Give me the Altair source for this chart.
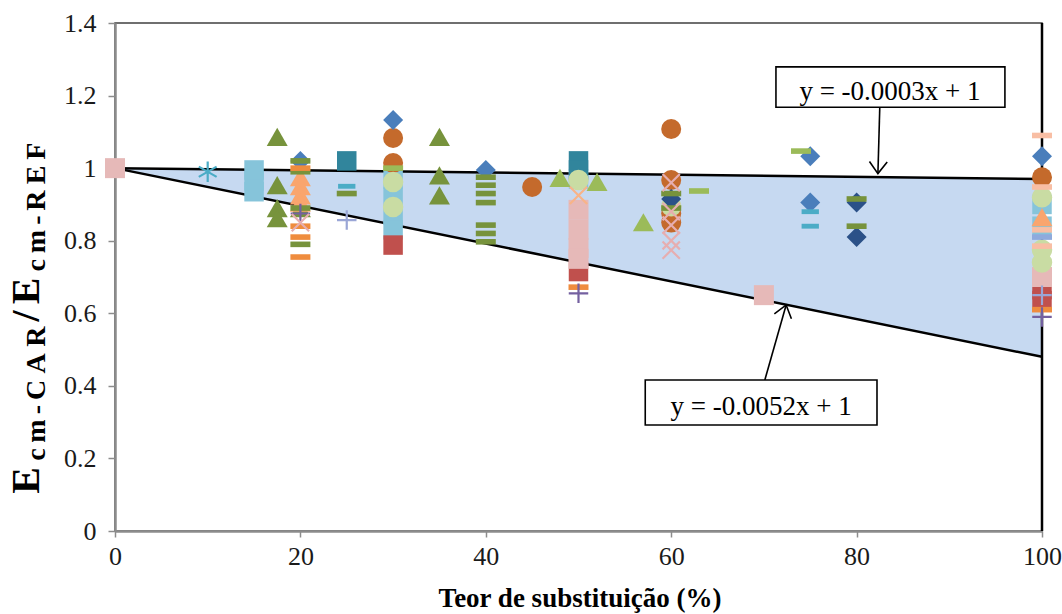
import altair as alt
import pandas as pd

# ---------------- data ----------------
x_ticks = [0, 20, 40, 60, 80, 100]
y_ticks = [0, 0.2, 0.4, 0.6, 0.8, 1, 1.2, 1.4]

# regression envelope (from the equations shown on the chart)
slope_upper = -0.0003
slope_lower = -0.0052
intercept = 1
env_x = [0, 100]

eq_labels = ["y = -0.0003x + 1", "y = -0.0052x + 1"]
box_x1 = [71.3, 57.2]
box_x2 = [96.0, 82.2]
box_y1 = [1.279, 0.416]
box_y2 = [1.168, 0.292]
label_x = [83.6, 69.7]
label_y = [1.21, 0.343]
arrow_x1 = [82.5, 70.1]
arrow_y1 = [1.168, 0.416]
arrow_x2 = [82.3, 72.4]
arrow_y2 = [0.985, 0.623]

# marker series (x = substitution %, y = ratio)
lblue_sq_x = [15, 15, 15, 30, 30, 30, 30, 50, 100, 100]
lblue_sq_y = [0.935, 0.965, 0.995, 0.97, 0.92, 0.87, 0.83, 0.97, 0.90, 0.84]
teal_sq_x = [25, 50, 50]
teal_sq_y = [1.02, 1.02, 0.995]
red_sq_x = [30, 50, 100, 100]
red_sq_y = [0.788, 0.715, 0.665, 0.635]
pink_sq_x = [0, 50, 50, 50, 50, 70, 100]
pink_sq_y = [1.0, 0.885, 0.83, 0.78, 0.75, 0.65, 0.70]
brown_ci_x = [30, 30, 45, 60, 60, 60, 60, 100]
brown_ci_y = [1.083, 1.014, 0.948, 1.108, 0.967, 0.875, 0.85, 0.975]
lgreen_ci_x = [30, 30, 50, 60, 100, 100, 100]
lgreen_ci_y = [0.962, 0.893, 0.967, 0.895, 0.92, 0.775, 0.74]
green_tri_x = [17.5, 17.5, 17.5, 17.5, 35, 35, 35, 20]
green_tri_y = [1.086, 0.953, 0.89, 0.862, 1.086, 0.98, 0.925, 0.89]
lgreen_tri_x = [48, 52, 57]
lgreen_tri_y = [0.973, 0.962, 0.851]
orange_tri_x = [20, 20, 20, 20, 100]
orange_tri_y = [0.975, 0.95, 0.925, 0.905, 0.865]
blue_dia_x = [20, 30, 40, 75, 75, 100]
blue_dia_y = [1.02, 1.133, 0.995, 1.033, 0.905, 1.033]
navy_dia_x = [60, 80, 80]
navy_dia_y = [0.915, 0.905, 0.81]
green_dash_x = [20, 20, 20, 20, 25, 40, 40, 40, 40, 40, 40, 40, 60, 60, 80, 80]
green_dash_y = [1.02, 0.99, 0.89, 0.79, 0.93, 0.975, 0.953, 0.93, 0.905, 0.843, 0.82, 0.797, 0.93, 0.89, 0.915, 0.84]
lgreen_dash_x = [63, 74, 30]
lgreen_dash_y = [0.937, 1.047, 1.0]
teal_dash_x = [25, 75, 75]
teal_dash_y = [0.95, 0.88, 0.84]
orange_dash_x = [20, 20, 20, 20, 50, 100]
orange_dash_y = [1.0, 0.84, 0.81, 0.755, 0.672, 0.61]
peach_dash_x = [100, 100, 100, 100]
peach_dash_y = [1.09, 0.948, 0.83, 0.785]
lav_dash_x = [100]
lav_dash_y = [0.81]
purple_plus_x = [20, 50, 100]
purple_plus_y = [0.875, 0.655, 0.59]
lpurple_plus_x = [25, 100]
lpurple_plus_y = [0.857, 0.65]
pink_x_x = [20, 60, 60, 60, 60, 60]
pink_x_y = [0.85, 0.96, 0.88, 0.843, 0.80, 0.774]
orange_x_x = [50]
orange_x_y = [0.925]
cyan_ast_x = [10]
cyan_ast_y = [0.99]

x_title = "Teor de substituição (%)"
y_title_parts = [("E", False), ("cm-CAR", True), ("/E", False), ("cm-REF", True)]

# ---------------- styling ----------------
FONT = "Liberation Serif, Times New Roman, serif"
DASH = "M-1,-0.28H1V0.28H-1Z"
PLUS = "M-1,0H1M0,-1V1"
XMARK = "M-1,-1L1,1M-1,1L1,-1"
AST = "M0,-1V1M-0.87,-0.5L0.87,0.5M-0.87,0.5L0.87,-0.5"

series = [
    (lblue_sq_x, lblue_sq_y, "square", "#86c4da", 380, True),
    (teal_sq_x, teal_sq_y, "square", "#31859c", 380, True),
    (red_sq_x, red_sq_y, "square", "#c0504d", 380, True),
    (pink_sq_x, pink_sq_y, "square", "#e6b9b8", 400, True),
    (brown_ci_x, brown_ci_y, "circle", "#c46a2c", 400, True),
    (lgreen_ci_x, lgreen_ci_y, "circle", "#c9dca3", 420, True),
    (green_tri_x, green_tri_y, "triangle-up", "#77933c", 440, True),
    (lgreen_tri_x, lgreen_tri_y, "triangle-up", "#9bbb59", 440, True),
    (orange_tri_x, orange_tri_y, "triangle-up", "#f9a56e", 440, True),
    (blue_dia_x, blue_dia_y, "diamond", "#4a7ebb", 400, True),
    (navy_dia_x, navy_dia_y, "diamond", "#2b5188", 400, True),
    (green_dash_x, green_dash_y, DASH, "#77933c", 400, True),
    (lgreen_dash_x, lgreen_dash_y, DASH, "#9bbb59", 400, True),
    (teal_dash_x, teal_dash_y, DASH, "#4bacc6", 300, True),
    (orange_dash_x, orange_dash_y, DASH, "#ef8c3e", 400, True),
    (peach_dash_x, peach_dash_y, DASH, "#f8bea4", 400, True),
    (lav_dash_x, lav_dash_y, DASH, "#8faadc", 400, True),
    (purple_plus_x, purple_plus_y, PLUS, "#7460a0", 380, False),
    (lpurple_plus_x, lpurple_plus_y, PLUS, "#9aa6d6", 380, False),
    (pink_x_x, pink_x_y, XMARK, "#e6aeb0", 300, False),
    (orange_x_x, orange_x_y, XMARK, "#f8b488", 300, False),
    (cyan_ast_x, cyan_ast_y, AST, "#4bacc6", 420, False),
]

xs = alt.Scale(domain=[0, 100], nice=False, zero=False)
ys = alt.Scale(domain=[0, 1.4], nice=False, zero=False)
xaxis = alt.Axis(values=x_ticks, title=None, grid=False, labelFont=FONT, labelFontSize=26,
                 labelColor="#1a1a1a", domainColor="#8c8c8c", domainWidth=2.5,
                 tickColor="#8c8c8c", tickSize=6, tickWidth=1.5, labelPadding=6,
                 labelFlush=False)
yaxis = alt.Axis(values=y_ticks, title=None, grid=False, labelFont=FONT, labelFontSize=26,
                 labelColor="#1a1a1a", domainColor="#8c8c8c", domainWidth=2.5,
                 tickColor="#8c8c8c", tickSize=7, tickWidth=1.5, labelPadding=12,
                 labelExpr="datum.value == 0 ? '0' : (datum.value == 1 ? '1' : format(datum.value, '.1f'))")


def X(f):
    return alt.X(f, type="quantitative", scale=xs, axis=xaxis)


def Y(f):
    return alt.Y(f, type="quantitative", scale=ys, axis=yaxis)


env = pd.DataFrame({
    "x": env_x,
    "upper": [intercept + slope_upper * v for v in env_x],
    "lower": [intercept + slope_lower * v for v in env_x],
})

band = alt.Chart(env).mark_area(color="#c6d9f1", opacity=1).encode(x=X("x"), y=Y("upper"), y2="lower")
upper_line = alt.Chart(env).mark_line(color="black", strokeWidth=2.5).encode(x=X("x"), y=Y("upper"))
lower_line = alt.Chart(env).mark_line(color="black", strokeWidth=2.5).encode(x=X("x"), y=Y("lower"))
vline = alt.Chart(pd.DataFrame({"x": [100], "y": [0], "y2": [1.4]})).mark_rule(
    color="black", strokeWidth=2.5).encode(x=X("x"), y=Y("y"), y2="y2")

layers = [band, upper_line, lower_line, vline]

for sx, sy, shape, color, size, filled in series:
    df = pd.DataFrame({"x": sx, "y": sy})
    if filled:
        m = alt.Chart(df).mark_point(shape=shape, filled=True, fill=color, color=color,
                                     size=size, opacity=1, strokeWidth=0)
    else:
        m = alt.Chart(df).mark_point(shape=shape, filled=False, color=color, size=size,
                                     opacity=1, strokeWidth=2.2)
    layers.append(m.encode(x=X("x"), y=Y("y")))

# annotations
boxes = pd.DataFrame({"x1": box_x1, "x2": box_x2, "y1": box_y1, "y2": box_y2})
arrows = pd.DataFrame({"x1": arrow_x1, "y1": arrow_y1, "x2": arrow_x2, "y2": arrow_y2})
labels = pd.DataFrame({"x": label_x, "y": label_y, "t": eq_labels})

layers.append(alt.Chart(arrows).mark_rule(color="black", strokeWidth=1.6).encode(
    x=X("x1"), y=Y("y1"), x2="x2", y2="y2"))
layers.append(alt.Chart(boxes).mark_rect(fill="white", stroke="black", strokeWidth=1.6).encode(
    x=X("x1"), x2="x2", y=Y("y1"), y2="y2"))
layers.append(alt.Chart(labels).mark_text(font=FONT, fontSize=27, color="black").encode(
    x=X("x"), y=Y("y"), text="t:N"))

head_down = "M-0.75,-1L0,0L0.75,-1"
head_up = "M-0.75,1L0,0L0.75,1"
layers.append(alt.Chart(pd.DataFrame({"x": [arrow_x2[0]], "y": [arrow_y2[0]]})).mark_point(
    shape=head_down, filled=False, color="black", strokeWidth=1.6, size=560, opacity=1, angle=2).encode(
    x=X("x"), y=Y("y")))
layers.append(alt.Chart(pd.DataFrame({"x": [arrow_x2[1]], "y": [arrow_y2[1]]})).mark_point(
    shape=head_up, filled=False, color="black", strokeWidth=1.6, size=560, opacity=1, angle=16).encode(
    x=X("x"), y=Y("y")))

# x-axis title
layers.append(alt.Chart(pd.DataFrame({"t": [x_title]})).mark_text(
    font=FONT, fontSize=27, fontWeight="bold", color="black", baseline="alphabetic", align="center").encode(
    x=alt.value(465), y=alt.value(584), text="t:N"))

# y-axis title with subscripts (drawn char by char, rotated)
adv = {"E": 0.667, "c": 0.444, "m": 0.833, "-": 0.333, "C": 0.722, "A": 0.722,
       "R": 0.722, "/": 0.278, "F": 0.611}
F_MAIN, F_SUB = 40, 28
chars = []
for txt, sub in y_title_parts:
    for ch in txt:
        fs = F_SUB if sub else F_MAIN
        chars.append((ch, fs, sub, adv[ch] * fs))
total = sum(c[3] for c in chars)
stretch = 1.32
span = total * stretch
center_y = 296.0
cum = 0.0
for ch, fs, sub, a in chars:
    cy = center_y + span / 2 - (cum + a / 2) * stretch
    cum += a
    layers.append(alt.Chart(pd.DataFrame({"t": [ch]})).mark_text(
        font=FONT, fontSize=fs, fontWeight="bold", color="black", angle=270,
        align="center", baseline="alphabetic").encode(
        x=alt.value(-70 if sub else -76), y=alt.value(cy), text="t:N"))

chart = alt.layer(*layers).properties(
    width=927, height=508,
    autosize=alt.AutoSizeParams(type="none"),
    padding={"left": 115, "top": 23, "right": 20, "bottom": 83},
    background="white",
).configure_view(stroke="#404040", strokeWidth=1.5)

chart.save("out.html", embed_options={"renderer": "svg", "actions": False})
